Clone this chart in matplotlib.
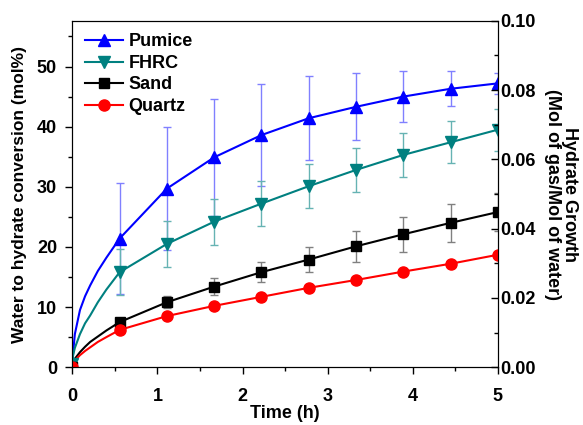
import matplotlib.pyplot as plt
from matplotlib.ticker import MultipleLocator

plt.rcParams['font.family'] = ['Liberation Sans', 'DejaVu Sans']
plt.rcParams['font.weight'] = 'bold'

# marker times (h) and values (mol%)
t_mark = [0, 0.556, 1.111, 1.667, 2.222, 2.778, 3.333, 3.889, 4.444, 5.0]
pumice = [0, 21.4, 29.7, 34.9, 38.6, 41.4, 43.3, 45.0, 46.3, 47.2]
pumice_err = [0, 9.2, 10.2, 9.7, 8.5, 7.0, 5.6, 4.2, 2.9, 1.7]
fhrc = [0.5, 15.8, 20.5, 24.2, 27.2, 30.1, 32.8, 35.3, 37.4, 39.5]
fhrc_err = [0, 3.8, 3.8, 3.8, 3.75, 3.65, 3.7, 3.6, 3.5, 3.5]
sand = [0, 7.5, 10.8, 13.4, 15.8, 17.9, 20.1, 22.1, 24.0, 25.8]
sand_err = [0, 0.5, 1.0, 1.4, 1.7, 2.1, 2.6, 2.9, 3.1, 3.2]
quartz = [0, 6.2, 8.5, 10.2, 11.7, 13.2, 14.5, 15.9, 17.2, 18.7]

# early part of the fitted curves
t_early = [0, 0.01, 0.03, 0.09, 0.15, 0.21, 0.3, 0.4]
pumice_early = [0, 2.5, 5.5, 9.5, 11.8, 13.6, 16.0, 18.2]
fhrc_early = [0.5, 2.0, 3.2, 5.5, 7.3, 8.6, 10.8, 12.9]
sand_early = [0, 0.8, 1.4, 2.5, 3.4, 4.2, 5.1, 6.1]
quartz_early = [0, 0.6, 1.1, 2.0, 2.7, 3.3, 4.2, 5.0]

fig, ax = plt.subplots(figsize=(5.83, 4.25), dpi=100)
fig.subplots_adjust(left=0.124, right=0.854, top=0.951, bottom=0.136)

series = [
    ('Pumice', pumice, pumice_early, pumice_err, '#0000ff', '#8080ff', '^', 9),
    ('FHRC', fhrc, fhrc_early, fhrc_err, '#008080', '#66b3b3', 'v', 9),
    ('Sand', sand, sand_early, sand_err, 'black', '#808080', 's', 7),
    ('Quartz', quartz, quartz_early, None, '#ff0000', None, 'o', 8),
]

for name, vals, early, err, col, ecol, mk, ms in series:
    tt = t_early + t_mark[1:]
    yy = early + vals[1:]
    ax.plot(tt, yy, color=col, lw=1.5, zorder=3)
    if err is not None:
        ax.errorbar(t_mark, vals, yerr=err, fmt='none', ecolor=ecol,
                    elinewidth=1, capsize=3, capthick=1, zorder=2)
    ax.plot(t_mark, vals, linestyle='none', marker=mk, markersize=ms,
            color=col, zorder=4)
    ax.plot([], [], color=col, lw=1.5, marker=mk, markersize=ms, label=name)

ax.set_xlim(0, 5)
ax.set_ylim(0, 57.6)
ax.xaxis.set_major_locator(MultipleLocator(1))
ax.xaxis.set_minor_locator(MultipleLocator(0.5))
ax.yaxis.set_major_locator(MultipleLocator(10))
ax.yaxis.set_minor_locator(MultipleLocator(5))
ax.tick_params(which='major', length=5, width=1, labelsize=13)
ax.tick_params(which='minor', length=3, width=1)
ax.tick_params(axis='x', which='major', pad=10)
ax.tick_params(axis='y', which='major', pad=6)
ax.set_xlabel('Time (h)', fontsize=13, fontweight='bold', labelpad=0)
ax.set_ylabel('Water to hydrate conversion (mol%)', fontsize=12.5,
              fontweight='bold', labelpad=7)

ax2 = ax.twinx()
ax2.set_ylim(0, 0.1)
ax2.yaxis.set_major_locator(MultipleLocator(0.02))
ax2.yaxis.set_minor_locator(MultipleLocator(0.01))
ax2.yaxis.set_major_formatter(plt.FormatStrFormatter('%.2f'))
ax2.tick_params(which='major', direction='in', length=5, width=1,
                labelsize=13, pad=2)
ax2.tick_params(which='minor', direction='in', length=3, width=1)
ax2.set_ylabel('Hydrate Growth\n(Mol of gas/Mol of water)', fontsize=13,
               fontweight='bold', rotation=270, labelpad=30, linespacing=1.0)

ax.legend(loc='upper left', frameon=False, fontsize=13, handlelength=2.1,
          borderaxespad=0.3, labelspacing=0.25, handletextpad=0.3)

fig.savefig('out.png', dpi=100)
